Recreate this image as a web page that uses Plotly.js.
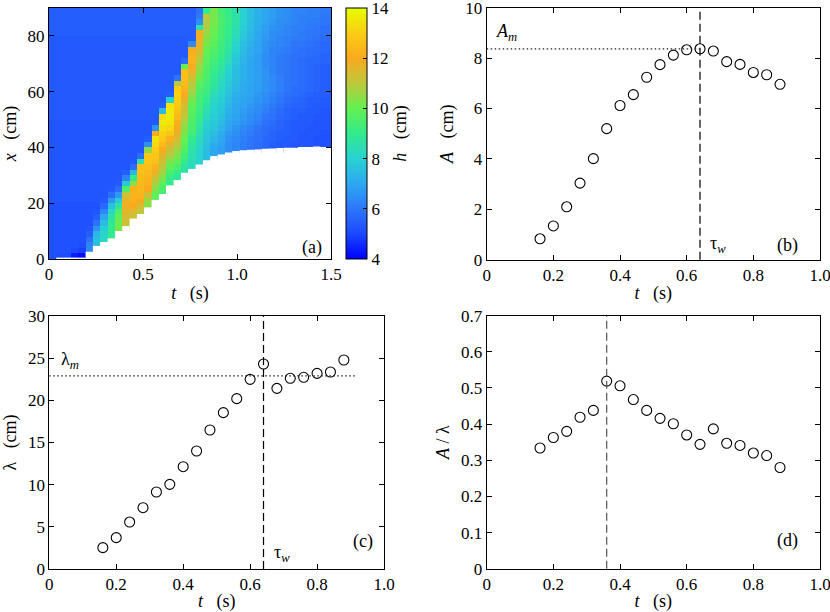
<!DOCTYPE html>
<html>
<head>
<meta charset="utf-8">
<script src="https://cdn.plot.ly/plotly-3.0.1.min.js"></script>
<style>html,body{margin:0;padding:0;background:#fff;}#chart{width:830px;height:612px;}</style>
</head>
<body>
<div id="chart"></div>
<script>
const N = null;
// ---------- panel (a): heatmap h(t, x) ----------
const tCols = [0.0195,0.0585,0.0975,0.1365,0.1755,0.2145,0.2535,0.2925,0.3315,0.3705,0.4095,0.4485,0.4875,0.5265,0.5655,0.6045,0.6435,0.6825,0.7215,0.7605,0.7995,0.8385,0.8775,0.9165,0.9555,0.9945,1.0335,1.0725,1.1115,1.1505,1.1895,1.2285,1.2675,1.3065,1.3455,1.3845,1.4235,1.4625,1.5015];
const xRows = [1,3,5,7,9,11,13,15,17,19,21,23,25,27,29,31,33,35,37,39,41,43,45,47,49,51,53,55,57,59,61,63,65,67,69,71,73,75,77,79,81,83,85,87,89];
// lower edge of the measured region (cm) for each time column
const bottomEdge = [0,0.5,0.5,0.5,0.5,2.6,4.7,6.0,7.4,10.0,11.8,14.5,16.0,18.5,21.2,23.3,26.4,28.3,30.9,32.3,33.9,35.4,36.9,37.5,38.2,38.7,39.0,39.2,39.3,39.5,39.6,39.8,39.9,39.9,40.0,40.1,40.3,40.0,40.0];
// h (cm), one array per time column, from x = 1 cm (bottom) to x = 89 cm (top)
const hGrid = [
[5.2,5.2,5.2,5.2,5.2, 5.2,5.2,5.2,5.2,5.2, 5.3,5.3,5.3,5.3,5.3, 5.3,5.3,5.3,5.3,5.3, 5.3,5.3,5.3,5.3,5.3, 5.4,5.4,5.4,5.4,5.4, 5.4,5.4,5.4,5.4,5.4, 5.4,5.4,5.4,5.4,5.4, 5.5,5.5,5.5,5.5,5.5],
[5.1,5.2,5.2,5.2,5.2, 5.2,5.2,5.2,5.2,5.2, 5.3,5.3,5.3,5.3,5.3, 5.3,5.3,5.3,5.3,5.3, 5.3,5.3,5.3,5.3,5.3, 5.4,5.4,5.4,5.4,5.4, 5.4,5.4,5.4,5.4,5.4, 5.4,5.4,5.4,5.4,5.4, 5.5,5.5,5.5,5.5,5.5],
[5.1,5.2,5.2,5.2,5.2, 5.2,5.2,5.2,5.2,5.2, 5.3,5.3,5.3,5.3,5.3, 5.3,5.3,5.3,5.3,5.3, 5.3,5.3,5.3,5.3,5.3, 5.4,5.4,5.4,5.4,5.4, 5.4,5.4,5.4,5.4,5.4, 5.4,5.4,5.4,5.4,5.4, 5.5,5.5,5.5,5.5,5.5],
[4.4,5.0,5.2,5.2,5.2, 5.2,5.2,5.2,5.2,5.2, 5.3,5.3,5.3,5.3,5.3, 5.3,5.3,5.3,5.3,5.3, 5.3,5.3,5.3,5.3,5.3, 5.4,5.4,5.4,5.4,5.4, 5.4,5.4,5.4,5.4,5.4, 5.4,5.4,5.4,5.4,5.4, 5.5,5.5,5.5,5.5,5.5],
[4.2,4.9,5.1,5.2,5.2, 5.2,5.2,5.2,5.2,5.2, 5.3,5.3,5.3,5.3,5.3, 5.3,5.3,5.3,5.3,5.3, 5.3,5.3,5.3,5.3,5.3, 5.4,5.4,5.4,5.4,5.4, 5.4,5.4,5.4,5.4,5.4, 5.4,5.4,5.4,5.4,5.4, 5.5,5.5,5.5,5.5,5.5],
[N,6.4,6.3,5.9,5.5, 5.3,5.2,5.2,5.2,5.2, 5.3,5.3,5.3,5.3,5.3, 5.3,5.3,5.3,5.3,5.3, 5.3,5.3,5.3,5.3,5.3, 5.4,5.4,5.4,5.4,5.4, 5.4,5.4,5.4,5.4,5.4, 5.4,5.4,5.4,5.4,5.4, 5.5,5.5,5.5,5.5,5.5],
[N,N,7.5,7.6,7.3, 6.6,5.9,5.5,5.3,5.2, 5.3,5.3,5.3,5.3,5.3, 5.3,5.3,5.3,5.3,5.3, 5.3,5.3,5.3,5.3,5.3, 5.4,5.4,5.4,5.4,5.4, 5.4,5.4,5.4,5.4,5.4, 5.4,5.4,5.4,5.4,5.4, 5.5,5.5,5.5,5.5,5.5],
[N,N,N,8.2,8.1, 7.9,7.5,7.0,6.3,5.7, 5.4,5.3,5.3,5.3,5.3, 5.3,5.3,5.3,5.3,5.3, 5.3,5.3,5.3,5.3,5.3, 5.4,5.4,5.4,5.4,5.4, 5.4,5.4,5.4,5.4,5.4, 5.4,5.4,5.4,5.4,5.4, 5.5,5.5,5.5,5.5,5.5],
[N,N,N,9.0,9.0, 8.9,8.8,8.6,8.2,7.6, 6.7,5.8,5.4,5.3,5.3, 5.3,5.3,5.3,5.3,5.3, 5.3,5.3,5.3,5.3,5.3, 5.4,5.4,5.4,5.4,5.4, 5.4,5.4,5.4,5.4,5.4, 5.4,5.4,5.4,5.4,5.4, 5.5,5.5,5.5,5.5,5.5],
[N,N,N,N,N, 10.2,10.1,9.9,9.6,8.7, 7.8,6.7,5.8,5.4,5.3, 5.3,5.3,5.3,5.3,5.3, 5.3,5.3,5.3,5.3,5.3, 5.4,5.4,5.4,5.4,5.4, 5.4,5.4,5.4,5.4,5.4, 5.4,5.4,5.4,5.4,5.4, 5.5,5.5,5.5,5.5,5.5],
[N,N,N,N,N, 11.0,11.2,11.4,11.6,11.8, 11.8,11.2,9.6,7.8,6.3, 5.5,5.3,5.3,5.3,5.3, 5.3,5.3,5.3,5.3,5.3, 5.4,5.4,5.4,5.4,5.4, 5.4,5.4,5.4,5.4,5.4, 5.4,5.4,5.4,5.4,5.4, 5.5,5.5,5.5,5.5,5.5],
[N,N,N,N,N, N,N,11.2,11.5,12.0, 12.2,12.3,12.2,10.5,9.0, 7.4,5.8,5.4,5.3,5.3, 5.3,5.3,5.3,5.3,5.3, 5.4,5.4,5.4,5.4,5.4, 5.4,5.4,5.4,5.4,5.4, 5.4,5.4,5.4,5.4,5.4, 5.5,5.5,5.5,5.5,5.5],
[N,N,N,N,N, N,N,N,11.0,11.4, 12.0,12.3,12.4,12.4,12.5, 12.7,12.6,8.5,5.8,5.3, 5.3,5.3,5.3,5.3,5.3, 5.4,5.4,5.4,5.4,5.4, 5.4,5.4,5.4,5.4,5.4, 5.4,5.4,5.4,5.4,5.4, 5.5,5.5,5.5,5.5,5.5],
[N,N,N,N,N, N,N,N,N,10.4, 10.6,11.2,12.0,12.2,12.3, 12.4,12.6,12.8,12.9,10.5, 6.5,5.5,5.3,5.3,5.3, 5.4,5.4,5.4,5.4,5.4, 5.4,5.4,5.4,5.4,5.4, 5.4,5.4,5.4,5.4,5.4, 5.5,5.5,5.5,5.5,5.5],
[N,N,N,N,N, N,N,N,N,N, 9.8,9.9,10.3,10.8,11.2, 11.8,12.3,12.6,12.8,13.0, 13.2,13.4,12.0,6.6,5.4, 5.4,5.4,5.4,5.4,5.4, 5.4,5.4,5.4,5.4,5.4, 5.4,5.4,5.4,5.4,5.4, 5.5,5.5,5.5,5.5,5.5],
[N,N,N,N,N, N,N,N,N,N, N,9.4,9.5,9.8,10.3, 10.7,11.0,11.3,11.6,12.0, 12.5,12.9,13.1,13.4,13.6, 13.3,7.4,5.5,5.4,5.4, 5.4,5.4,5.4,5.4,5.4, 5.4,5.4,5.4,5.4,5.4, 5.5,5.5,5.5,5.5,5.5],
[N,N,N,N,N, N,N,N,N,N, N,N,N,9.0,9.1, 9.5,9.9,10.3,10.8,11.2, 11.6,12.2,12.8,13.2,13.5, 13.6,13.6,13.4,8.0,5.5, 5.4,5.4,5.4,5.4,5.4, 5.4,5.4,5.4,5.4,5.4, 5.5,5.5,5.5,5.5,5.5],
[N,N,N,N,N, N,N,N,N,N, N,N,N,N,8.8, 9.0,9.5,9.9,10.2,10.6, 11.0,11.4,11.7,11.9,12.1, 12.4,12.7,12.9,13.0,13.1, 13.0,11.0,6.0,5.4,5.4, 5.4,5.4,5.4,5.4,5.4, 5.5,5.5,5.5,5.5,5.5],
[N,N,N,N,N, N,N,N,N,N, N,N,N,N,N, 8.5,8.7,9.0,9.3,9.6, 9.8,10.0,10.2,10.4,10.7, 11.0,11.2,11.4,11.7,12.0, 12.3,12.5,12.6,12.6,10.0, 5.8,5.4,5.4,5.4,5.4, 5.5,5.5,5.5,5.5,5.5],
[N,N,N,N,N, N,N,N,N,N, N,N,N,N,N, N,8.3,8.4,8.5,8.6, 8.8,9.0,9.3,9.5,9.6, 9.7,9.8,9.9,10.2,10.5, 10.8,11.0,11.3,11.7,12.0, 12.2,12.3,12.0,6.4,5.5, 5.5,5.5,5.5,5.5,5.5],
[N,N,N,N,N, N,N,N,N,N, N,N,N,N,N, N,8.0,8.0,8.0,8.1, 8.2,8.3,8.5,8.7,8.9, 9.1,9.2,9.3,9.4,9.5, 9.6,9.8,10.1,10.4,10.6, 10.9,11.2,11.5,11.7,11.8, 11.9,8.5,6.5,6.1,5.9],
[N,N,N,N,N, N,N,N,N,N, N,N,N,N,N, N,N,7.5,7.5,7.5, 7.6,7.7,7.8,7.9,8.1, 8.3,8.5,8.7,8.9,9.1, 9.3,9.4,9.5,9.6,9.7, 9.8,9.9,10.0,10.2,10.4, 10.6,10.8,10.9,11.0,9.0],
[N,N,N,N,N, N,N,N,N,N, N,N,N,N,N, N,N,N,7.0,7.0, 7.1,7.3,7.5,7.7,7.8, 7.9,8.0,8.1,8.2,8.4, 8.6,8.8,8.9,9.0,9.2, 9.3,9.5,9.6,9.8,9.9, 10.0,10.1,10.2,10.2,10.2],
[N,N,N,N,N, N,N,N,N,N, N,N,N,N,N, N,N,N,6.8,6.8, 6.9,7.0,7.1,7.3,7.5, 7.6,7.7,7.8,7.9,8.0, 8.2,8.3,8.4,8.6,8.8, 8.9,9.1,9.2,9.3,9.4, 9.4,9.5,9.5,9.5,9.4],
[N,N,N,N,N, N,N,N,N,N, N,N,N,N,N, N,N,N,N,6.5, 6.5,6.6,6.7,6.9,7.0, 7.1,7.2,7.3,7.5,7.6, 7.7,7.8,7.9,8.0,8.2, 8.4,8.5,8.7,8.8,8.9, 9.0,9.0,9.1,9.1,9.0],
[N,N,N,N,N, N,N,N,N,N, N,N,N,N,N, N,N,N,N,6.3, 6.3,6.4,6.5,6.6,6.8, 6.9,7.0,7.0,7.1,7.2, 7.3,7.4,7.5,7.5,7.6, 7.7,7.8,8.0,8.1,8.3, 8.4,8.5,8.6,8.6,8.5],
[N,N,N,N,N, N,N,N,N,N, N,N,N,N,N, N,N,N,N,6.1, 6.1,6.2,6.3,6.4,6.6, 6.7,6.8,6.9,7.0,7.0, 7.1,7.1,7.2,7.2,7.2, 7.3,7.4,7.5,7.6,7.7, 7.8,7.9,8.0,8.0,8.0],
[N,N,N,N,N, N,N,N,N,N, N,N,N,N,N, N,N,N,N,5.9, 6.0,6.0,6.1,6.2,6.4, 6.5,6.6,6.7,6.8,6.9, 6.9,7.0,7.0,7.0,7.0, 7.0,7.1,7.1,7.2,7.3, 7.4,7.5,7.5,7.6,7.6],
[N,N,N,N,N, N,N,N,N,N, N,N,N,N,N, N,N,N,N,5.8, 5.8,5.9,5.9,6.0,6.2, 6.3,6.4,6.5,6.6,6.7, 6.8,6.8,6.8,6.8,6.8, 6.8,6.8,6.9,6.9,7.0, 7.0,7.1,7.2,7.2,7.2],
[N,N,N,N,N, N,N,N,N,N, N,N,N,N,N, N,N,N,N,5.6, 5.7,5.7,5.8,5.8,5.9, 6.0,6.2,6.3,6.4,6.5, 6.6,6.6,6.6,6.6,6.5, 6.5,6.5,6.6,6.6,6.7, 6.8,6.8,6.9,7.0,7.0],
[N,N,N,N,N, N,N,N,N,N, N,N,N,N,N, N,N,N,N,5.5, 5.5,5.6,5.6,5.7,5.8, 5.9,6.0,6.1,6.2,6.3, 6.4,6.4,6.4,6.3,6.3, 6.3,6.3,6.3,6.4,6.5, 6.5,6.6,6.7,6.8,6.8],
[N,N,N,N,N, N,N,N,N,N, N,N,N,N,N, N,N,N,N,5.4, 5.4,5.5,5.5,5.6,5.6, 5.7,5.8,5.9,6.0,6.1, 6.2,6.2,6.2,6.1,6.1, 6.1,6.1,6.2,6.3,6.3, 6.4,6.5,6.5,6.6,6.6],
[N,N,N,N,N, N,N,N,N,N, N,N,N,N,N, N,N,N,N,5.4, 5.4,5.4,5.5,5.5,5.5, 5.6,5.6,5.7,5.8,5.9, 6.0,6.0,6.0,6.0,6.0, 6.0,6.0,6.1,6.2,6.2, 6.3,6.3,6.4,6.5,6.5],
[N,N,N,N,N, N,N,N,N,N, N,N,N,N,N, N,N,N,N,5.3, 5.3,5.4,5.4,5.4,5.4, 5.5,5.5,5.6,5.7,5.8, 5.8,5.9,5.9,5.9,5.9, 5.9,5.9,6.0,6.0,6.1, 6.2,6.2,6.3,6.3,6.3],
[N,N,N,N,N, N,N,N,N,N, N,N,N,N,N, N,N,N,N,N, 5.3,5.3,5.3,5.4,5.4, 5.4,5.5,5.6,5.6,5.7, 5.8,5.8,5.8,5.8,5.8, 5.8,5.9,5.9,6.0,6.1, 6.1,6.2,6.2,6.2,6.3],
[N,N,N,N,N, N,N,N,N,N, N,N,N,N,N, N,N,N,N,N, 5.3,5.3,5.3,5.3,5.4, 5.4,5.4,5.5,5.5,5.6, 5.7,5.7,5.7,5.7,5.7, 5.7,5.8,5.8,5.9,6.0, 6.0,6.1,6.1,6.2,6.2],
[N,N,N,N,N, N,N,N,N,N, N,N,N,N,N, N,N,N,N,N, 5.2,5.2,5.3,5.3,5.3, 5.3,5.4,5.4,5.5,5.5, 5.6,5.6,5.6,5.6,5.6, 5.7,5.7,5.8,5.8,5.9, 6.0,6.0,6.1,6.2,6.2],
[N,N,N,N,N, N,N,N,N,N, N,N,N,N,N, N,N,N,N,N, 5.2,5.2,5.2,5.3,5.3, 5.3,5.3,5.4,5.4,5.5, 5.5,5.5,5.5,5.5,5.5, 5.6,5.6,5.7,5.7,5.8, 5.9,5.9,6.0,6.0,6.1],
[N,N,N,N,N, N,N,N,N,N, N,N,N,N,N, N,N,N,N,N, 5.2,5.2,5.2,5.3,5.3, 5.3,5.3,5.4,5.4,5.5, 5.5,5.5,5.5,5.5,5.5, 5.6,5.6,5.7,5.7,5.8, 5.9,5.9,6.0,6.0,6.1]
];
const hTickVals = [4,6,8,10,12,14];

// ---------- panels (b)-(d) ----------
const tPts  = [0.16,0.20,0.24,0.28,0.32,0.36,0.40,0.44,0.48,0.52,0.56,0.60,0.64,0.68,0.72,0.76,0.80,0.84,0.88];
const ampA  = [0.83,1.34,2.10,3.04,4.01,5.20,6.12,6.55,7.24,7.74,8.12,8.33,8.37,8.28,7.86,7.75,7.43,7.34,6.96];
const lamL  = [2.53,3.72,5.57,7.27,9.13,10.04,12.13,13.99,16.48,18.54,20.20,22.49,24.31,21.42,22.61,22.73,23.20,23.36,24.78];
const ratio = [0.334,0.363,0.380,0.419,0.438,0.519,0.506,0.468,0.438,0.416,0.401,0.370,0.344,0.387,0.347,0.341,0.320,0.313,0.280];
const tauW = 0.64, tauRatio = 0.36, ampMax = 8.37, lamMax = 22.9, lamLineEnd = 0.913;

const tTicksA = [0,0.5,1.0,1.5], tTextA = ['0','0.5','1.0','1.5'];
const xTicksA = [0,20,40,60,80];
const tTicks = [0,0.2,0.4,0.6,0.8,1.0], tText = ['0','0.2','0.4','0.6','0.8','1.0'];
const aTicks = [0,2,4,6,8,10];
const lTicks = [0,5,10,15,20,25,30];
const rTicks = [0,0.1,0.2,0.3,0.4,0.5,0.6,0.7], rText = ['0','0.1','0.2','0.3','0.4','0.5','0.6','0.7'];

const zMat = xRows.map((_, i) => hGrid.map(col => col[i]));

const FONT = 'Liberation Serif';
const GAP = '\u00A0\u00A0\u00A0';
const colorscale = [[0,'rgb(0,0,255)'],[0.1,'rgb(28,72,255)'],[0.2,'rgb(45,118,250)'],[0.3,'rgb(45,168,240)'],[0.4,'rgb(40,210,210)'],[0.5,'rgb(50,235,140)'],[0.6,'rgb(100,240,80)'],[0.7,'rgb(190,200,60)'],[0.8,'rgb(250,170,30)'],[0.9,'rgb(250,205,20)'],[1,'rgb(230,255,0)']];

const markerStyle = {symbol:'circle-open', size:10, color:'black', line:{width:1.1, color:'black'}};

const data = [
  {type:'heatmap', x:tCols, y:xRows, z:zMat, zmin:4, zmax:14.0001, colorscale:colorscale, zsmooth:false,
   xaxis:'x', yaxis:'y', hoverinfo:'skip',
   colorbar:{x:346/830, xanchor:'left', xpad:0, y:1-259/612, yanchor:'bottom', ypad:0,
     thickness:21, thicknessmode:'pixels', len:251, lenmode:'pixels',
     outlinewidth:1, outlinecolor:'black', ticks:'inside', ticklen:4, tickcolor:'black',
     ticklabeloverflow:'allow',
     tickvals:hTickVals, tickfont:{family:FONT, size:17, color:'black'},
     title:{text:'<i>h</i>' + GAP + '(cm)', side:'right', font:{family:FONT, size:18, color:'black'}}}},
  {type:'bar', x:tCols, y:bottomEdge, width:0.0396, marker:{color:'white', line:{width:0}},
   xaxis:'x', yaxis:'y', hoverinfo:'skip', showlegend:false},
  {type:'scatter', mode:'markers', x:tPts, y:ampA, marker:markerStyle, xaxis:'x2', yaxis:'y2', hoverinfo:'skip'},
  {type:'scatter', mode:'markers', x:tPts, y:lamL, marker:markerStyle, xaxis:'x3', yaxis:'y3', hoverinfo:'skip'},
  {type:'scatter', mode:'markers', x:tPts, y:ratio, marker:markerStyle, xaxis:'x4', yaxis:'y4', hoverinfo:'skip'}
];

function axis(domain, range, tickvals, ticktext, title, anchor, standoff) {
  const a = {domain:domain, range:range, anchor:anchor, tickvals:tickvals,
    showline:true, linecolor:'black', linewidth:1, mirror:'ticks', ticks:'inside', ticklen:5, tickwidth:1, tickcolor:'black',
    showgrid:false, zeroline:false, fixedrange:true, ticklabeloverflow:'allow',
    tickfont:{family:FONT, size:17, color:'black'},
    title:{text:title, font:{family:FONT, size:18, color:'black'}, standoff:standoff}};
  if (ticktext) a.ticktext = ticktext;
  return a;
}

const tTitle = '<i>t</i>' + GAP + '(s)';
const dotLine = {color:'#222', width:1.2, dash:'1.5px,2.5px'};
const dashLine = {color:'black', width:1.2, dash:'8px,4px'};
const layout = {
  width:830, height:612, autosize:false, margin:{l:0,r:0,t:0,b:0},
  paper_bgcolor:'white', plot_bgcolor:'white', showlegend:false, hovermode:false,
  font:{family:FONT, size:17, color:'black'},
  xaxis:  axis([49/830, 331/830], [0,1.5], tTicksA, tTextA, tTitle, 'y', 2),
  yaxis:  axis([1-259/612, 1-8/612], [0,90], xTicksA, null, '<i>x</i>' + GAP + '(cm)', 'x', 6),
  xaxis2: axis([486.7/830, 820/830], [0,1], tTicks, tText, tTitle, 'y2', 2),
  yaxis2: axis([1-259.7/612, 1-7.7/612], [0,10], aTicks, null, '<i>A</i>' + GAP + '(cm)', 'x2', 6),
  xaxis3: axis([49.3/830, 384/830], [0,1], tTicks, tText, tTitle, 'y3', 2),
  yaxis3: axis([1-569/612, 1-316/612], [0,30], lTicks, null, 'λ' + GAP + '(cm)', 'x3', 6),
  xaxis4: axis([486.7/830, 820/830], [0,1], tTicks, tText, tTitle, 'y4', 2),
  yaxis4: axis([1-568.7/612, 1-315.7/612], [0,0.7], rTicks, rText, '<i>A</i> / λ', 'x4', 6),
  shapes: [
    {type:'line', xref:'x2', yref:'y2 domain', x0:tauW, x1:tauW, y0:0, y1:1, line:dashLine},
    {type:'line', xref:'x2', yref:'y2', x0:0, x1:tauW, y0:ampMax, y1:ampMax, line:dotLine},
    {type:'line', xref:'x3', yref:'y3 domain', x0:tauW, x1:tauW, y0:0, y1:1, line:dashLine},
    {type:'line', xref:'x3', yref:'y3', x0:0, x1:lamLineEnd, y0:lamMax, y1:lamMax, line:dotLine},
    {type:'line', xref:'x4', yref:'y4 domain', x0:tauRatio, x1:tauRatio, y0:0, y1:1, line:{color:'#555', width:1.2, dash:'8px,4px'}}
  ],
  annotations: [
    {text:'(a)', xref:'paper', yref:'paper', x:312/830, y:1-247/612, showarrow:false, font:{family:FONT, size:18}},
    {text:'(b)', xref:'paper', yref:'paper', x:800/830, y:1-245/612, showarrow:false, font:{family:FONT, size:18}},
    {text:'(c)', xref:'paper', yref:'paper', x:363/830, y:1-554/612, showarrow:false, font:{family:FONT, size:18}},
    {text:'(d)', xref:'paper', yref:'paper', x:800/830, y:1-553/612, showarrow:false, font:{family:FONT, size:18}},
    {text:'<i>A</i><sub><i>m</i></sub>', xref:'x2', yref:'y2', x:0.022, y:9.0, xanchor:'left', showarrow:false, font:{family:FONT, size:18}},
    {text:'τ<sub><i>w</i></sub>', xref:'x2', yref:'y2', x:0.665, y:0.62, xanchor:'left', showarrow:false, font:{family:FONT, size:18}},
    {text:'λ<sub><i>m</i></sub>', xref:'x3', yref:'y3', x:0.03, y:24.7, xanchor:'left', showarrow:false, font:{family:FONT, size:18}},
    {text:'τ<sub><i>w</i></sub>', xref:'x3', yref:'y3', x:0.665, y:1.8, xanchor:'left', showarrow:false, font:{family:FONT, size:18}}
  ]
};

Plotly.newPlot('chart', data, layout, {staticPlot:true, displayModeBar:false});
</script>
</body>
</html>
